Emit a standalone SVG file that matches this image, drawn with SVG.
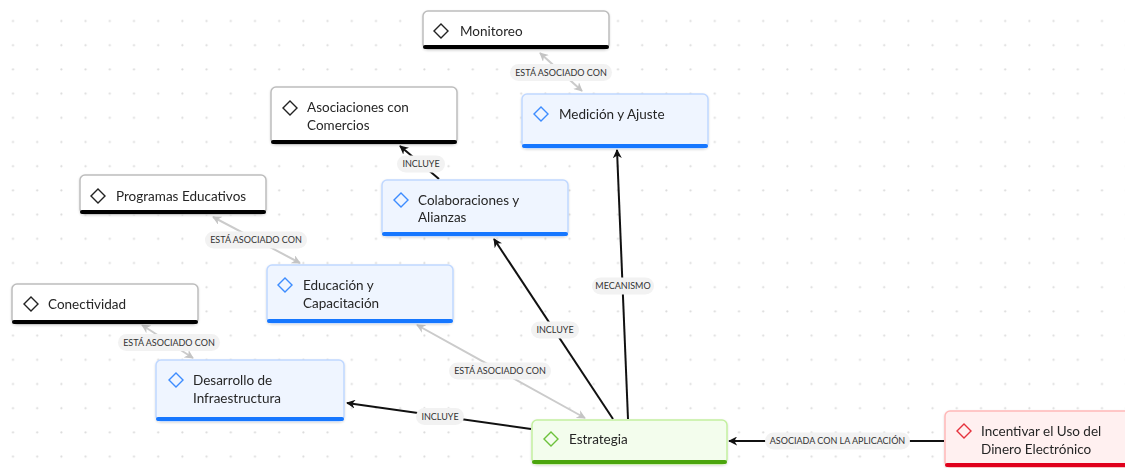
<svg xmlns="http://www.w3.org/2000/svg" width="1125" height="468" viewBox="0 0 1125 468">
<defs>
  <pattern id="dots" x="1" y="9" width="24.2" height="24.2" patternUnits="userSpaceOnUse">
    <circle cx="12" cy="12" r="1.1" fill="#dcdcdc"/>
  </pattern>
  <marker id="arrBlack" viewBox="0 0 10 10" refX="9" refY="5" markerWidth="9" markerHeight="9" markerUnits="userSpaceOnUse" orient="auto-start-reverse">
    <path d="M0,0 L10,5 L0,10 L3,5 z" fill="#111"/>
  </marker>
  <marker id="arrGray" viewBox="0 0 10 10" refX="9" refY="5" markerWidth="9" markerHeight="9" markerUnits="userSpaceOnUse" orient="auto-start-reverse">
    <path d="M0,0 L10,5 L0,10 L3,5 z" fill="#c4c4c4"/>
  </marker>
  <filter id="sh" x="-10%" y="-20%" width="120%" height="150%">
    <feDropShadow dx="0" dy="1" stdDeviation="1.2" flood-color="#000" flood-opacity="0.15"/>
  </filter>
</defs>
<style>
  .t { font-family: "Lato", "Noto Sans", sans-serif; font-size: 13.5px; fill: #262626; }
  .lbl { font-family: "Lato", "Noto Sans", sans-serif; font-size: 9px; fill: #333; text-anchor: middle; }
  .pill { fill: #f2f2f2; }
  .eb { stroke: #111; stroke-width: 2; fill: none; }
  .eg { stroke: #cbcbcb; stroke-width: 2; fill: none; }
  .wbox { fill: #fff; stroke: #bdbdbd; stroke-width: 1.5; }
  .wbar { fill: #000; }
  .bbox { fill: #eff5ff; stroke: #c0d8ff; stroke-width: 1.5; }
  .bbar { fill: #1677ff; }
  .gbox { fill: #f3fded; stroke: #c3f0a0; stroke-width: 1.5; }
  .gbar { fill: #4ca50f; }
  .rbox { fill: #fff0f0; stroke: #ffb8b8; stroke-width: 1.5; }
  .rbar { fill: #e0001a; }
  .dw { fill: none; stroke: #222; stroke-width: 1.4; }
  .db { fill: none; stroke: #3c8cff; stroke-width: 1.4; }
  .dg { fill: none; stroke: #6cc13a; stroke-width: 1.4; }
  .dr { fill: none; stroke: #e5323c; stroke-width: 1.4; }
</style>
<rect width="1125" height="468" fill="#fff"/>
<rect width="1125" height="468" fill="url(#dots)"/>

<g id="connectors">
  <line class="eg" x1="582" y1="91" x2="540" y2="53" marker-start="url(#arrGray)" marker-end="url(#arrGray)"/>
  <rect class="pill" x="510" y="64" width="102" height="17" rx="8.5"/>
  <text class="lbl" x="561" y="75.5">ESTÁ ASOCIADO CON</text>

  <line class="eg" x1="300" y1="263" x2="213" y2="217" marker-start="url(#arrGray)" marker-end="url(#arrGray)"/>
  <rect class="pill" x="205" y="231.5" width="102" height="17" rx="8.5"/>
  <text class="lbl" x="256" y="243">ESTÁ ASOCIADO CON</text>

  <line class="eg" x1="193" y1="358" x2="142" y2="325" marker-start="url(#arrGray)" marker-end="url(#arrGray)"/>
  <rect class="pill" x="118" y="334" width="102" height="17" rx="8.5"/>
  <text class="lbl" x="169" y="345.5">ESTÁ ASOCIADO CON</text>

  <line class="eg" x1="585" y1="418" x2="417" y2="325" marker-start="url(#arrGray)" marker-end="url(#arrGray)"/>
  <rect class="pill" x="449" y="362.5" width="102" height="17" rx="8.5"/>
  <text class="lbl" x="500" y="374">ESTÁ ASOCIADO CON</text>

  <line class="eb" x1="439" y1="179" x2="400" y2="146" marker-end="url(#arrBlack)"/>
  <rect class="pill" x="397" y="155.5" width="48" height="17" rx="8.5"/>
  <text class="lbl" x="421" y="167">INCLUYE</text>

  <line class="eb" x1="613" y1="419" x2="494" y2="239" marker-end="url(#arrBlack)"/>
  <rect class="pill" x="531" y="321.5" width="48" height="17" rx="8.5"/>
  <text class="lbl" x="555" y="333">INCLUYE</text>

  <line class="eb" x1="628" y1="419" x2="617" y2="150" marker-end="url(#arrBlack)"/>
  <rect class="pill" x="592" y="277.5" width="62" height="17" rx="8.5"/>
  <text class="lbl" x="623" y="289">MECANISMO</text>

  <line class="eb" x1="531" y1="429" x2="347" y2="403" marker-end="url(#arrBlack)"/>
  <rect class="pill" x="416" y="408" width="48" height="17" rx="8.5"/>
  <text class="lbl" x="440" y="419.5">INCLUYE</text>

  <line class="eb" x1="944" y1="441" x2="729" y2="441" marker-end="url(#arrBlack)"/>
  <rect class="pill" x="765" y="432.5" width="145" height="17" rx="8.5"/>
  <text class="lbl" x="837.5" y="444">ASOCIADA CON LA APLICACIÓN</text>
</g>

<g id="node-monitoreo" filter="url(#sh)">
  <rect class="wbox" x="423" y="11" width="186" height="38" rx="5"/>
  <rect class="wbar" x="423" y="45" width="186" height="4" rx="2"/>
  <path class="dw" d="M441,24 L448,31 L441,38 L434,31 Z"/>
  <text class="t" x="460" y="36">Monitoreo</text>
</g>

<g id="node-medicion" filter="url(#sh)">
  <rect class="bbox" x="522" y="94" width="186" height="54" rx="5"/>
  <rect class="bbar" x="522" y="144" width="186" height="4" rx="2"/>
  <path class="db" d="M541,107 L548,114 L541,121 L534,114 Z"/>
  <text class="t" x="559" y="119">Medición y Ajuste</text>
</g>

<g id="node-asociaciones" filter="url(#sh)">
  <rect class="wbox" x="271" y="87" width="186" height="57" rx="5"/>
  <rect class="wbar" x="271" y="140" width="186" height="4" rx="2"/>
  <path class="dw" d="M290,101 L297,108 L290,115 L283,108 Z"/>
  <text class="t" x="307" y="112">Asociaciones con</text>
  <text class="t" x="307" y="130">Comercios</text>
</g>

<g id="node-colaboraciones" filter="url(#sh)">
  <rect class="bbox" x="382" y="180" width="186" height="56" rx="5"/>
  <rect class="bbar" x="382" y="232" width="186" height="4" rx="2"/>
  <path class="db" d="M401,193 L408,200 L401,207 L394,200 Z"/>
  <text class="t" x="418" y="205">Colaboraciones y</text>
  <text class="t" x="418" y="222">Alianzas</text>
</g>

<g id="node-programas" filter="url(#sh)">
  <rect class="wbox" x="80" y="175" width="186" height="39" rx="5"/>
  <rect class="wbar" x="80" y="210" width="186" height="4" rx="2"/>
  <path class="dw" d="M98,189 L105,196 L98,203 L91,196 Z"/>
  <text class="t" x="116" y="201">Programas Educativos</text>
</g>

<g id="node-educacion" filter="url(#sh)">
  <rect class="bbox" x="267" y="265" width="186" height="58" rx="5"/>
  <rect class="bbar" x="267" y="319" width="186" height="4" rx="2"/>
  <path class="db" d="M285,278 L292,285 L285,292 L278,285 Z"/>
  <text class="t" x="303" y="290">Educación y</text>
  <text class="t" x="303" y="308">Capacitación</text>
</g>

<g id="node-conectividad" filter="url(#sh)">
  <rect class="wbox" x="12" y="284" width="186" height="40" rx="5"/>
  <rect class="wbar" x="12" y="320" width="186" height="4" rx="2"/>
  <path class="dw" d="M31,297 L38,304 L31,311 L24,304 Z"/>
  <text class="t" x="48" y="309">Conectividad</text>
</g>

<g id="node-desarrollo" filter="url(#sh)">
  <rect class="bbox" x="156" y="360" width="188" height="61" rx="5"/>
  <rect class="bbar" x="156" y="417" width="188" height="4" rx="2"/>
  <path class="db" d="M176,373 L183,380 L176,387 L169,380 Z"/>
  <text class="t" x="193" y="385">Desarrollo de</text>
  <text class="t" x="193" y="403">Infraestructura</text>
</g>

<g id="node-estrategia" filter="url(#sh)">
  <rect class="gbox" x="532" y="420" width="195" height="44" rx="5"/>
  <rect class="gbar" x="532" y="460" width="195" height="4" rx="2"/>
  <path class="dg" d="M551,432 L558,439 L551,446 L544,439 Z"/>
  <text class="t" x="569" y="444">Estrategia</text>
</g>

<g id="node-incentivar" filter="url(#sh)">
  <rect class="rbox" x="945" y="411" width="200" height="56" rx="5"/>
  <rect class="rbar" x="945" y="463" width="200" height="4" rx="2"/>
  <path class="dr" d="M964,424 L971,431 L964,438 L957,431 Z"/>
  <text class="t" x="981" y="436">Incentivar el Uso del</text>
  <text class="t" x="981" y="454">Dinero Electrónico</text>
</g>
</svg>
